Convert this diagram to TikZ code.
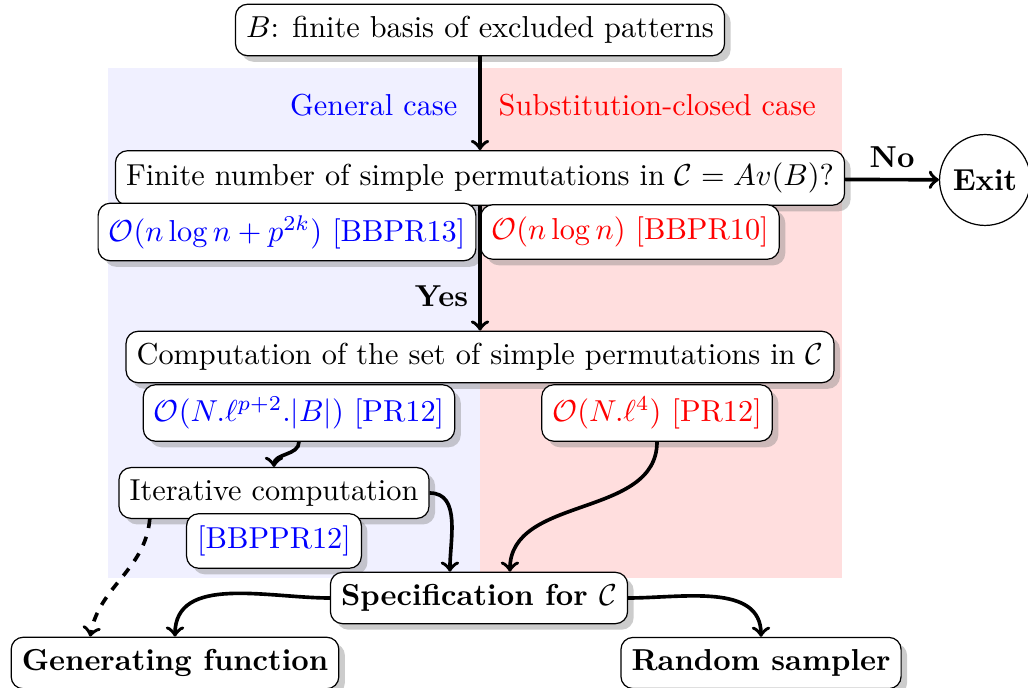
\documentclass[tikz,border=0pt]{standalone}
\usetikzlibrary{shadows}
\begin{document}
\begin{tikzpicture}[x=0.33pt,y=0.33pt,
  box/.style={draw,rounded corners=4pt,fill=white,inner xsep=3.5pt,inner ysep=4pt,
    drop shadow={shadow xshift=2pt,shadow yshift=-2pt,opacity=0.4}},
  flow/.style={->,very thick}]

  \useasboundingbox (0,0) rectangle (1028,688);

  % the two cases
  \fill[blue!6] (108,110) rectangle (480,620);
  \fill[red!13] (480,110) rectangle (842,620);
  \node[blue,anchor=east] (general) at (468,583) {General case};
  \node[red,anchor=west] (subst) at (488,583) {Substitution-closed case};

  \node[box] (basis) at (480,658) {$B$: finite basis of excluded patterns};
  \node[box] (finite) at (480,510) {Finite number of simple permutations in $\mathcal{C}=Av(B)$?};
  \node[draw,circle,minimum size=30pt,inner sep=1pt,font=\bfseries] (exit) at (985,508) {Exit};
  \node[box,text=blue] (gen1) at (287,456) {$\mathcal{O}(n\log n+p^{2k})$ [BBPR13]};
  \node[box,text=red] (sub1) at (630,456) {$\mathcal{O}(n\log n)$ [BBPR10]};
  \node[box] (simple) at (480,331) {Computation of the set of simple permutations in $\mathcal{C}$};
  \node[box,text=blue] (gen2) at (299,275) {$\mathcal{O}(N.\ell^{p+2}.|B|)$ [PR12]};
  \node[box,text=red] (sub2) at (657,275) {$\mathcal{O}(N.\ell^4)$ [PR12]};
  \node[box] (iter) at (274,195) {Iterative computation};
  \node[box,text=blue] (ref) at (274,147) {[BBPPR12]};
  \node[box,font=\bfseries] (spec) at (479,90) {Specification for $\mathcal{C}$};
  \node[box,font=\bfseries] (genfun) at (175,25) {Generating function};
  \node[box,font=\bfseries] (sampler) at (761,25) {Random sampler};

  \path[flow]
   (basis) edge (finite)
   (finite) edge node[above,font=\bfseries]{No} (exit)
   (finite) edge node[pos=0.72,left,font=\bfseries]{Yes} (simple)
   (gen2.south) edge[out=-90,in=90] (iter.north)
   (iter.east) edge[out=0,in=90] ([xshift=-9.6pt]spec.north)
   (sub2.south) edge[out=-90,in=90] ([xshift=10.2pt]spec.north)
   ([xshift=-41pt]iter.south) edge[dashed,out=-95,in=80] ([xshift=-28pt]genfun.north)
   (spec.west) edge[out=180,in=90] (genfun.north)
   (spec.east) edge[out=0,in=90] (sampler.north);
\end{tikzpicture}
\end{document}
